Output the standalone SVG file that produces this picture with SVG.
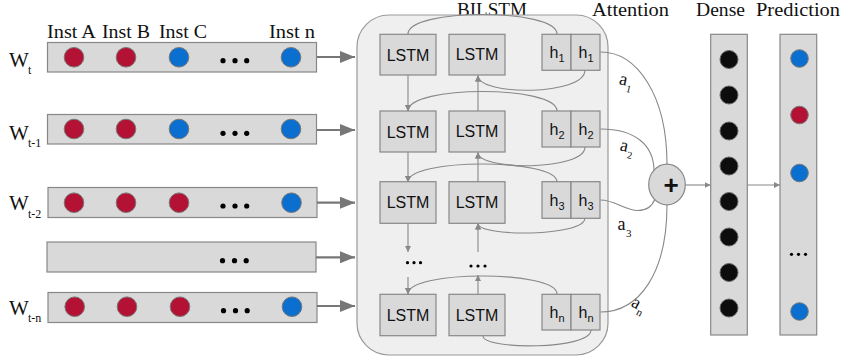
<svg xmlns="http://www.w3.org/2000/svg" width="841" height="360" viewBox="0 0 841 360">
<defs>
<marker id="big" markerUnits="userSpaceOnUse" markerWidth="15" markerHeight="12" refX="15" refY="6" orient="auto"><path d="M0,0 L15,6 L0,12 z" fill="#777"/></marker>
<marker id="sm" markerUnits="userSpaceOnUse" markerWidth="6" markerHeight="6" refX="6" refY="3" orient="auto"><path d="M0,0 L6,3 L0,6 z" fill="#888"/></marker>
</defs>
<style>
.serif{font-family:"Liberation Serif","Times New Roman",serif;fill:#111}
.sans{font-family:"Liberation Sans",Arial,sans-serif;fill:#111}
.row{fill:#d9d9d9;stroke:#888;stroke-width:1.2}
.red{fill:#b41234;stroke:#777;stroke-width:1}
.blue{fill:#0a6fcf;stroke:#777;stroke-width:1}
.blk{fill:#0d0d0d;stroke:#666;stroke-width:1}
.dot{fill:#000}
.box{fill:#d9d9d9;stroke:#888;stroke-width:1.2}
.bar{fill:#d9d9d9;stroke:#888;stroke-width:1.2}
.rowarrow{stroke:#777;stroke-width:2.2;fill:none;marker-end:url(#big)}
.c{stroke:#888;stroke-width:1.1;fill:none}
.ca{stroke:#888;stroke-width:1.1;fill:none;marker-end:url(#sm)}
.title{font-size:18px}
</style>

<!-- titles -->
<g id="titles">
<text class="serif title" x="457" y="16" textLength="70" lengthAdjust="spacingAndGlyphs">BILSTM</text>
<text class="serif title" x="592" y="16" textLength="77" lengthAdjust="spacingAndGlyphs">Attention</text>
<text class="serif title" x="696" y="16" textLength="49" lengthAdjust="spacingAndGlyphs">Dense</text>
<text class="serif title" x="756" y="16" textLength="84" lengthAdjust="spacingAndGlyphs">Prediction</text>
<text class="serif" font-size="19" x="47" y="38" textLength="49" lengthAdjust="spacingAndGlyphs">Inst A</text>
<text class="serif" font-size="19" x="102" y="38" textLength="48" lengthAdjust="spacingAndGlyphs">Inst B</text>
<text class="serif" font-size="19" x="159" y="38" textLength="48" lengthAdjust="spacingAndGlyphs">Inst C</text>
<text class="serif" font-size="19" x="269" y="38" textLength="46" lengthAdjust="spacingAndGlyphs">Inst n</text>
</g>

<!-- input rows -->
<g id="row-t">
<text class="serif" font-size="21" x="9" y="67">W</text>
<text class="serif" font-size="12" x="28" y="74">t</text>
<rect class="row" x="47.5" y="42.5" width="269" height="29.5"/>
<circle class="red" cx="74" cy="57.3" r="9.8"/><circle class="red" cx="126" cy="57.3" r="9.8"/><circle class="blue" cx="179" cy="57.3" r="9.8"/><circle class="blue" cx="291" cy="57.3" r="9.8"/>
<circle class="dot" cx="223" cy="60.7" r="2.6"/><circle class="dot" cx="235" cy="60.7" r="2.6"/><circle class="dot" cx="246.7" cy="60.7" r="2.6"/>
</g>
<g id="row-t1">
<text class="serif" font-size="21" x="9" y="139.5">W</text>
<text class="serif" font-size="12" x="28" y="147">t-1</text>
<rect class="row" x="47.5" y="114.5" width="269" height="29.5"/>
<circle class="red" cx="74" cy="129" r="9.8"/><circle class="red" cx="126" cy="129" r="9.8"/><circle class="blue" cx="179" cy="129" r="9.8"/><circle class="blue" cx="291" cy="129" r="9.8"/>
<circle class="dot" cx="223" cy="133.3" r="2.6"/><circle class="dot" cx="235" cy="133.3" r="2.6"/><circle class="dot" cx="246.7" cy="133.3" r="2.6"/>
</g>
<g id="row-t2">
<text class="serif" font-size="21" x="9" y="210">W</text>
<text class="serif" font-size="12" x="28" y="217.5">t-2</text>
<rect class="row" x="48" y="187.5" width="269" height="30"/>
<circle class="red" cx="74" cy="202.7" r="9.8"/><circle class="red" cx="126" cy="202.7" r="9.8"/><circle class="red" cx="179" cy="202.7" r="9.8"/><circle class="blue" cx="291.5" cy="202.7" r="9.8"/>
<circle class="dot" cx="223" cy="206" r="2.6"/><circle class="dot" cx="235" cy="206" r="2.6"/><circle class="dot" cx="246.7" cy="206" r="2.6"/>
</g>
<g id="row-dots">
<rect class="row" x="47" y="242" width="269" height="30"/>
<circle class="dot" cx="222.5" cy="260.7" r="2.6"/><circle class="dot" cx="234.5" cy="260.7" r="2.6"/><circle class="dot" cx="246.2" cy="260.7" r="2.6"/>
</g>
<g id="row-tn">
<text class="serif" font-size="21" x="9" y="315">W</text>
<text class="serif" font-size="12" x="28" y="322">t-n</text>
<rect class="row" x="48" y="292.5" width="269" height="30"/>
<circle class="red" cx="74.7" cy="306.7" r="9.8"/><circle class="red" cx="127" cy="306.7" r="9.8"/><circle class="red" cx="180" cy="306.7" r="9.8"/><circle class="blue" cx="292" cy="306.7" r="9.8"/>
<circle class="dot" cx="223.5" cy="310.7" r="2.6"/><circle class="dot" cx="235.5" cy="310.7" r="2.6"/><circle class="dot" cx="247.2" cy="310.7" r="2.6"/>
</g>

<!-- BILSTM container -->
<g id="bilstm">
<rect x="357" y="15" width="251" height="340" rx="32" ry="32" fill="#efefef" stroke="#999" stroke-width="1.2"/>
</g>

<!-- connectors -->
<g id="connectors">
<path class="rowarrow" d="M317,57 L355,57"/>
<path class="rowarrow" d="M317,130 L355,130"/>
<path class="rowarrow" d="M317,202.7 L355,202.7"/>
<path class="rowarrow" d="M316,257.3 L355,257.3"/>
<path class="rowarrow" d="M317,306 L355,306"/>

<path class="c" d="M557,34 C557,8 408,8 408,34"/>
<path class="ca" d="M557,111 C557,85 408,85 408,111"/>
<path class="ca" d="M557,182 C557,158 408,158 408,182"/>
<path class="ca" d="M557,294 C557,270 408,270 408,294"/>
<path class="ca" d="M585,70 C585,96 478,96 478,75.5"/>
<path class="ca" d="M585,147 C585,171 478,171 478,152.5"/>
<path class="ca" d="M585,218 C585,237 478,237 478,223.5"/>
<path class="c" d="M591,330 C591,350 483,350 483,336"/>
<path class="ca" d="M408,75 L408,111"/>
<path class="ca" d="M408,152 L408,182"/>
<path class="ca" d="M408,223 L408,252"/>
<path class="ca" d="M408,277 L408,294"/>
<path class="ca" d="M478,111 L478,75.5"/>
<path class="ca" d="M478,182 L478,152.5"/>
<path class="ca" d="M478,252 L478,223.5"/>
<path class="ca" d="M478,294 L478,275"/>

<path class="c" d="M600.5,52 C637,52 667,95 667,164.5"/>
<path class="c" d="M600.5,129 C635,129 654,145 654,171"/>
<path class="c" d="M600.5,200 C615,200 625,210.5 638,210.5 C648,210.5 653,204 655,199"/>
<path class="c" d="M600.5,312 C640,312 667,272 667,205"/>
<path class="ca" d="M685.5,185 L710.5,185"/>
<path class="ca" d="M747.5,185 L780,185"/>
</g>

<g id="lstm-f1"><rect class="box" x="380" y="34.3" width="56" height="40.7"/><text class="sans" font-size="16" x="408" y="60.5" text-anchor="middle">LSTM</text></g>
<g id="lstm-f2"><rect class="box" x="380" y="111" width="56" height="41"/><text class="sans" font-size="16" x="408" y="137.5" text-anchor="middle">LSTM</text></g>
<g id="lstm-f3"><rect class="box" x="380" y="181.7" width="56" height="41.6"/><text class="sans" font-size="16" x="408" y="208.3" text-anchor="middle">LSTM</text></g>
<g id="lstm-fdots"><circle class="dot" cx="407.5" cy="262.7" r="1.6"/><circle class="dot" cx="414" cy="262.7" r="1.6"/><circle class="dot" cx="420.5" cy="262.7" r="1.6"/></g>
<g id="lstm-fn"><rect class="box" x="380" y="294.3" width="56" height="41.4"/><text class="sans" font-size="16" x="408" y="320.8" text-anchor="middle">LSTM</text></g>
<g id="lstm-b1"><rect class="box" x="449" y="34.3" width="56" height="40.7"/><text class="sans" font-size="16" x="477" y="60" text-anchor="middle">LSTM</text></g>
<g id="lstm-b2"><rect class="box" x="449" y="111" width="56" height="41"/><text class="sans" font-size="16" x="477" y="137" text-anchor="middle">LSTM</text></g>
<g id="lstm-b3"><rect class="box" x="449" y="181.7" width="56" height="41.6"/><text class="sans" font-size="16" x="477" y="207.5" text-anchor="middle">LSTM</text></g>
<g id="lstm-bdots"><circle class="dot" cx="471" cy="266" r="1.6"/><circle class="dot" cx="478" cy="266" r="1.6"/><circle class="dot" cx="485" cy="266" r="1.6"/></g>
<g id="lstm-bn"><rect class="box" x="449" y="294.3" width="56" height="41.4"/><text class="sans" font-size="16" x="477" y="320.5" text-anchor="middle">LSTM</text></g>

<g id="h1">
<rect class="box" x="542" y="34.3" width="29" height="36"/><rect class="box" x="571" y="34.3" width="29" height="36"/>
<text class="sans" font-size="16" x="549.5" y="58">h<tspan font-size="11" dy="4">1</tspan></text>
<text class="sans" font-size="16" x="578.5" y="58">h<tspan font-size="11" dy="4">1</tspan></text>
</g>
<g id="h2">
<rect class="box" x="542" y="111" width="29" height="36"/><rect class="box" x="571" y="111" width="29" height="36"/>
<text class="sans" font-size="16" x="549.5" y="135">h<tspan font-size="11" dy="4">2</tspan></text>
<text class="sans" font-size="16" x="578.5" y="135">h<tspan font-size="11" dy="4">2</tspan></text>
</g>
<g id="h3">
<rect class="box" x="542" y="181.7" width="29" height="36.6"/><rect class="box" x="571" y="181.7" width="29" height="36.6"/>
<text class="sans" font-size="16" x="549.5" y="205.5">h<tspan font-size="11" dy="4">3</tspan></text>
<text class="sans" font-size="16" x="578.5" y="205.5">h<tspan font-size="11" dy="4">3</tspan></text>
</g>
<g id="hn">
<rect class="box" x="542" y="294.3" width="29" height="35.7"/><rect class="box" x="571" y="294.3" width="29" height="35.7"/>
<text class="sans" font-size="16" x="549.5" y="317.5">h<tspan font-size="11" dy="4">n</tspan></text>
<text class="sans" font-size="16" x="578.5" y="317.5">h<tspan font-size="11" dy="4">n</tspan></text>
</g>

<g id="a1" transform="rotate(12 623 84)"><text class="serif" font-size="18" x="618.5" y="85">a</text><text class="serif" font-size="10" x="627" y="91">1</text></g>
<g id="a2" transform="rotate(12 623 150)"><text class="serif" font-size="18" x="619.5" y="151">a</text><text class="serif" font-size="10" x="628" y="157">2</text></g>
<g id="a3"><text class="serif" font-size="18" x="617.5" y="230">a</text><text class="serif" font-size="11" x="626" y="237">3</text></g>
<g id="an" transform="rotate(28 637 306)"><text class="serif" font-size="18" x="631" y="309">a</text><text class="serif" font-size="11" x="639.5" y="314">n</text></g>

<g id="sum">
<ellipse cx="667" cy="184.5" rx="18.3" ry="20.3" fill="#d9d9d9" stroke="#888" stroke-width="1.2"/>
<text class="sans" font-size="26" font-weight="bold" x="671" y="194" text-anchor="middle">+</text>
</g>

<g id="dense">
<rect class="bar" x="710.7" y="34.3" width="36.6" height="300.7"/>
<circle class="blk" cx="729" cy="59.5" r="9"/><circle class="blk" cx="729" cy="95" r="9"/><circle class="blk" cx="729" cy="131" r="9"/><circle class="blk" cx="729" cy="166" r="9"/>
<circle class="blk" cx="729" cy="201.5" r="9"/><circle class="blk" cx="729" cy="237" r="9"/><circle class="blk" cx="729" cy="272.5" r="9"/><circle class="blk" cx="729" cy="308" r="9"/>
</g>

<g id="prediction">
<rect class="bar" x="780" y="34.3" width="36.7" height="300.7"/>
<circle class="blue" cx="799.5" cy="58.5" r="8.8"/><circle class="red" cx="799.5" cy="115" r="8.8"/><circle class="blue" cx="799.5" cy="173" r="8.8"/>
<circle class="dot" cx="791.5" cy="254.3" r="1.6"/><circle class="dot" cx="798.5" cy="254.3" r="1.6"/><circle class="dot" cx="805.5" cy="254.3" r="1.6"/>
<circle class="blue" cx="799.5" cy="311.5" r="8.8"/>
</g>
</svg>
